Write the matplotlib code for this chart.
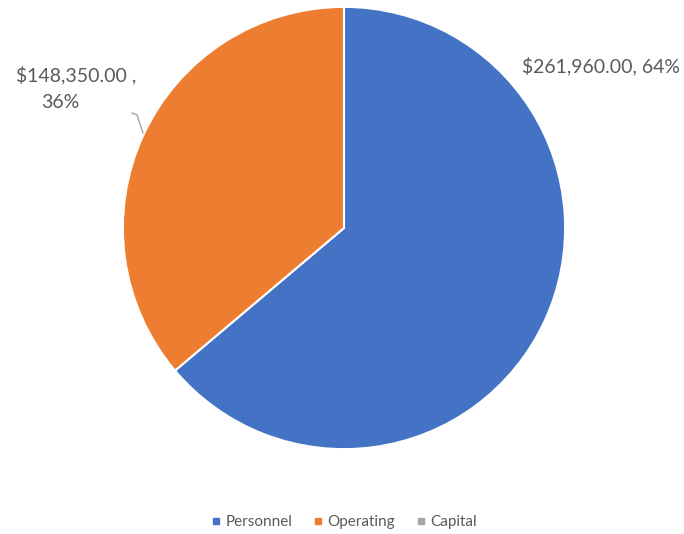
import matplotlib.pyplot as plt
from matplotlib.lines import Line2D

categories = ['Personnel', 'Operating', 'Capital']
values = [261960.00, 148350.00, 0.0]
colors = ['#4472C4', '#ED7D31', '#A5A5A5']

plt.rcParams['font.family'] = ['Lato', 'DejaVu Sans']
text_color = '#595959'

fig = plt.figure(figsize=(6.84, 5.34), dpi=100)
ax = fig.add_axes([122 / 684, 84 / 534, 444 / 684, 444 / 534])

nonzero = [(v, c) for v, c in zip(values, colors) if v > 0]
ax.pie([v for v, _ in nonzero], colors=[c for _, c in nonzero],
       startangle=90, counterclock=False,
       wedgeprops=dict(edgecolor='white', linewidth=1.5))
ax.set_aspect('equal')
ax.set_xlim(-1.004, 1.004)
ax.set_ylim(-1.004, 1.004)

total = sum(values)
pct = [v / total * 100 for v in values]

# data labels
fig.text(522 / 684, 1 - 66 / 534, f'${values[0]:,.2f}, {pct[0]:.0f}%',
         fontsize=14, color=text_color, ha='left', va='center')
fig.text(76 / 684, 1 - 75 / 534, f'${values[1]:,.2f} ,',
         fontsize=14, color=text_color, ha='center', va='center')
fig.text(60 / 684, 1 - 102 / 534, f'{pct[1]:.0f}%',
         fontsize=14, color=text_color, ha='center', va='center')

# leader line
fig.add_artist(Line2D([132 / 684, 137 / 684, 143 / 684],
                      [1 - 113 / 534, 1 - 115 / 534, 1 - 133 / 534],
                      color='#A6A6A6', linewidth=1))

handles = [Line2D([], [], marker='s', linestyle='', markersize=5,
                  markerfacecolor=c, markeredgecolor=c) for c in colors]
leg = fig.legend(handles, categories, loc='center', bbox_to_anchor=(344 / 684, 1 - 522 / 534),
                 ncol=3, frameon=False, fontsize=11, handlelength=0.6,
                 handletextpad=0.3, columnspacing=1.4)
for t in leg.get_texts():
    t.set_color(text_color)

fig.savefig('out.png', dpi=100)
